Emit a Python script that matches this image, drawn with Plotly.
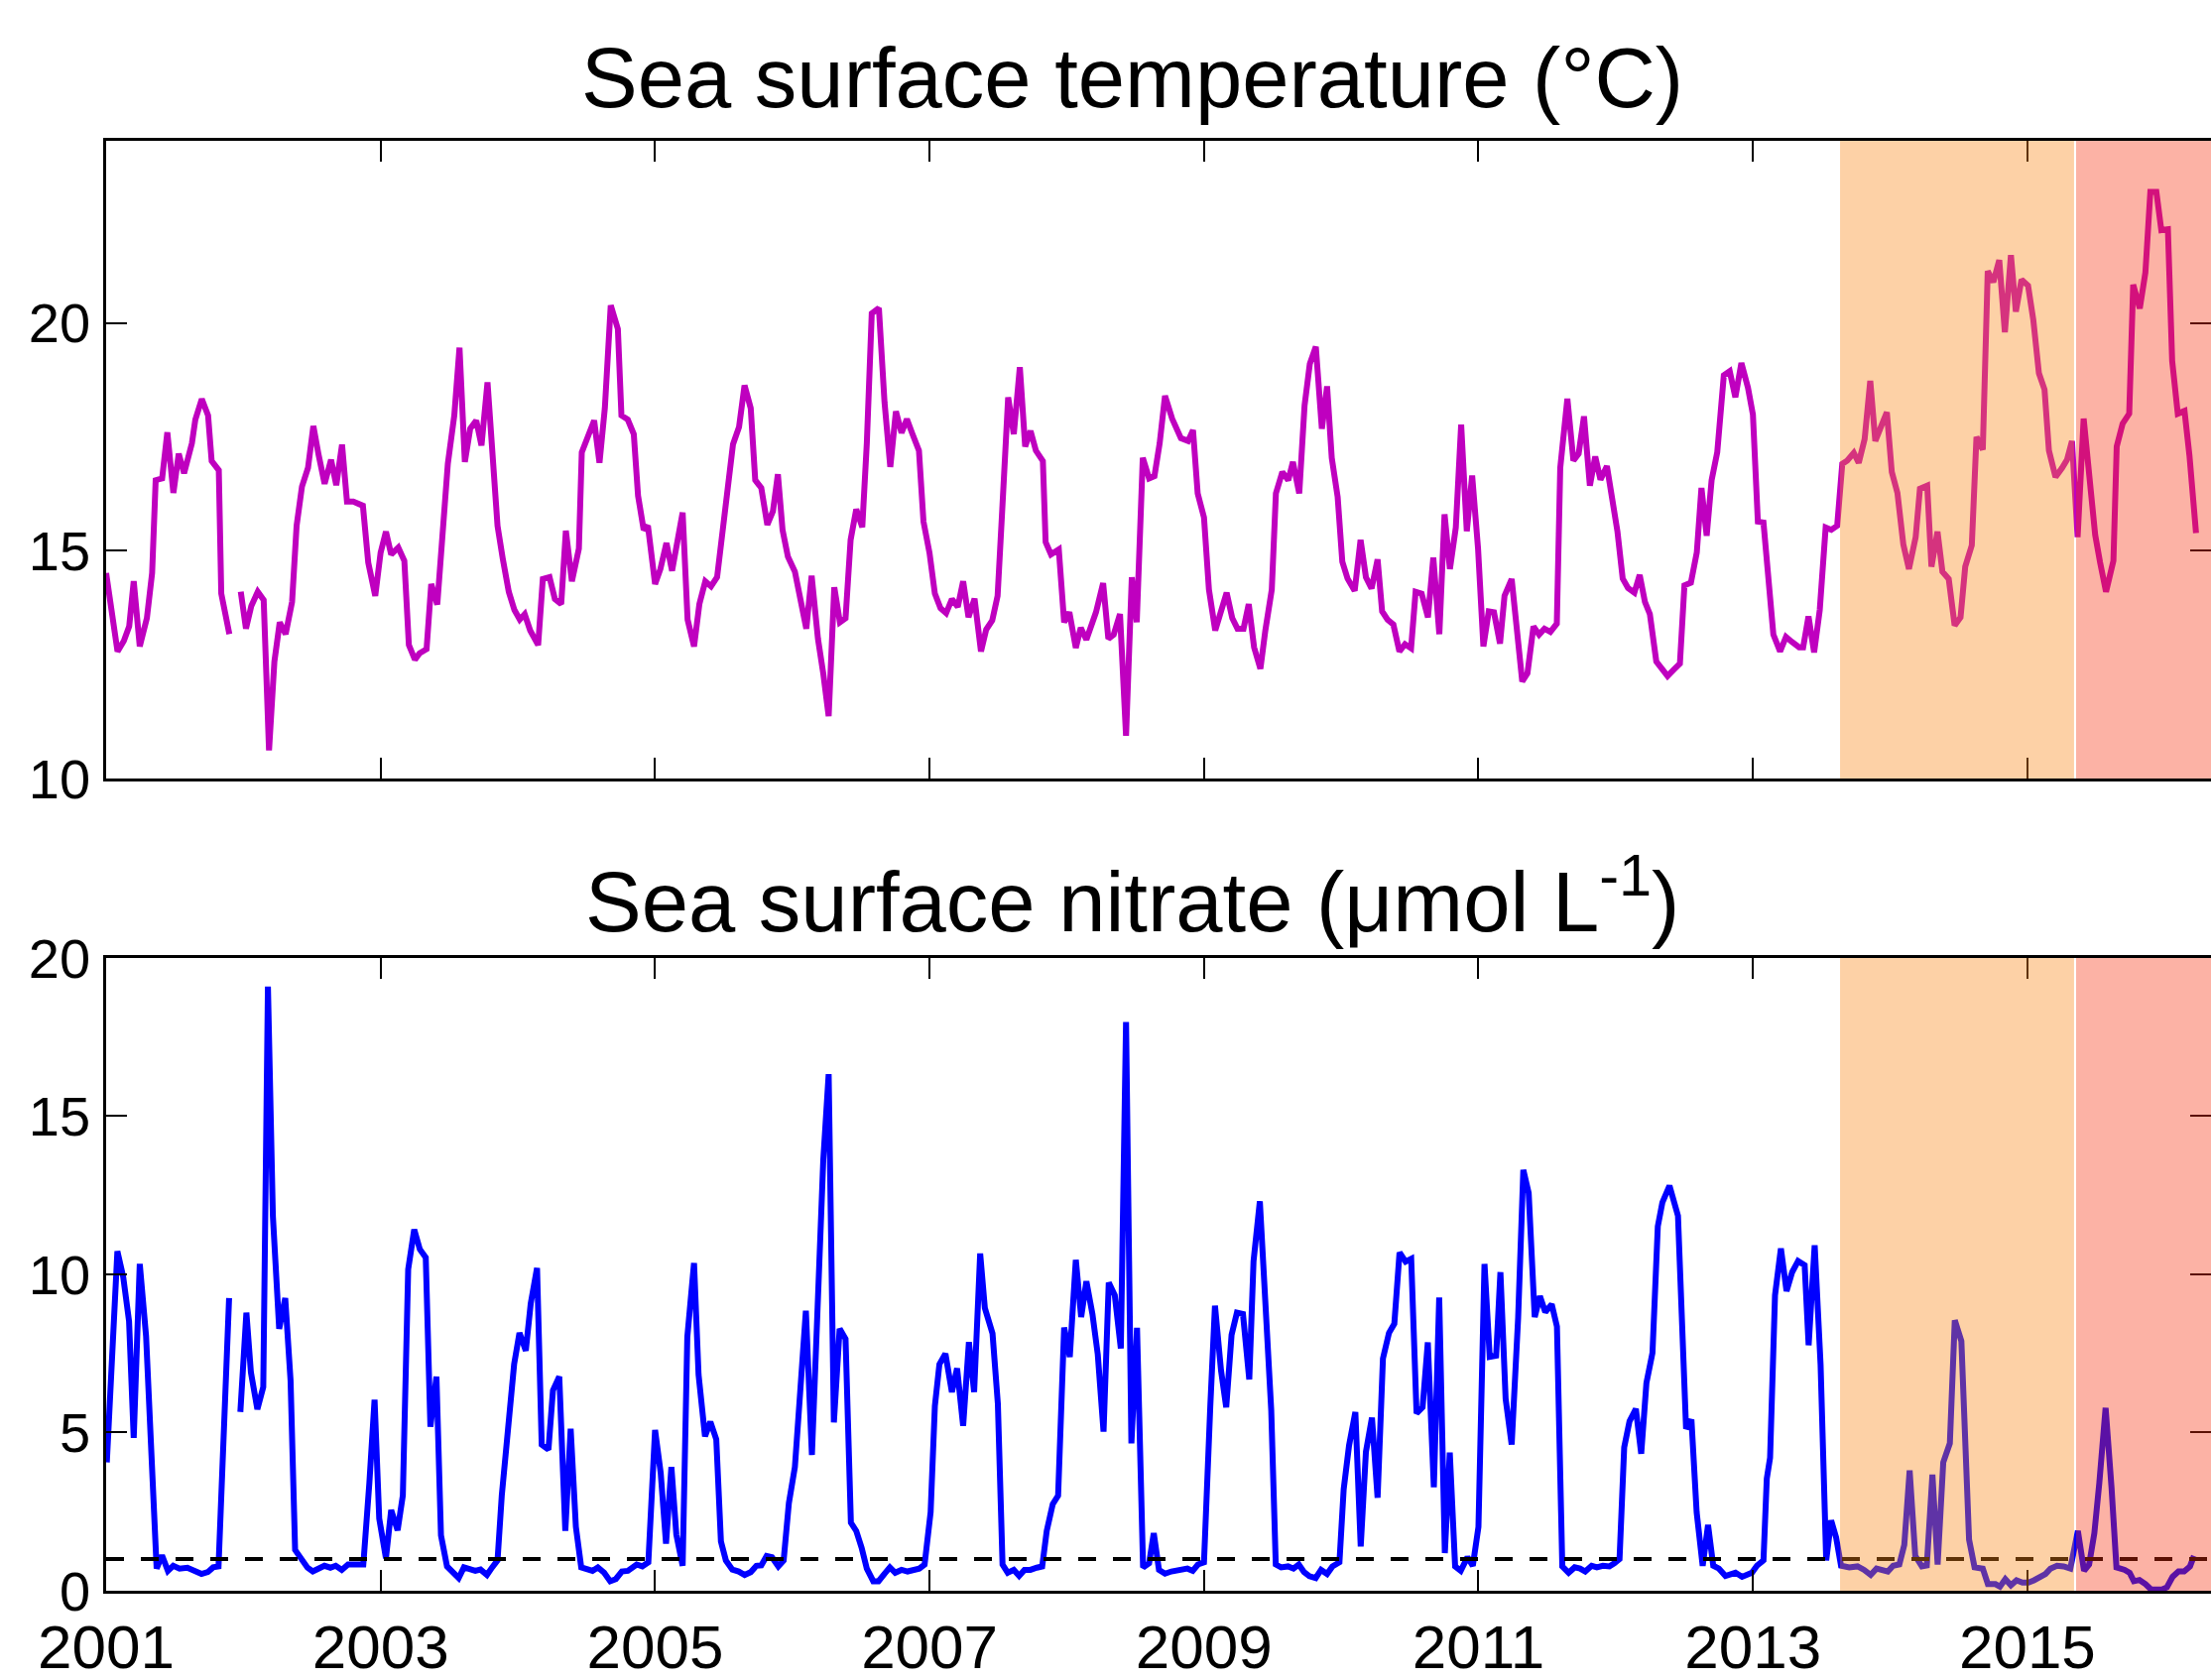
import plotly.graph_objects as go

# ---------------- data ----------------
sst_years = [
    2001.000, 2001.083, 2001.129, 2001.168, 2001.201, 2001.245, 2001.297, 2001.335, 2001.361, 2001.408,
    2001.446, 2001.490, 2001.529, 2001.568, 2001.625, 2001.650, 2001.697, 2001.743, 2001.769, 2001.821,
    2001.839, 2001.898, 2001.940, 2001.981, 2002.019, 2002.058, 2002.105, 2002.148, 2002.187, 2002.226,
    2002.265, 2002.308, 2002.355, 2002.388, 2002.427, 2002.471, 2002.510, 2002.548, 2002.592, 2002.639,
    2002.677, 2002.719, 2002.755, 2002.801, 2002.871, 2002.910, 2002.961, 2003.000, 2003.039, 2003.077,
    2003.129, 2003.173, 2003.206, 2003.250, 2003.284, 2003.335, 2003.369, 2003.413, 2003.452, 2003.490,
    2003.537, 2003.575, 2003.614, 2003.653, 2003.697, 2003.735, 2003.779, 2003.813, 2003.852, 2003.890,
    2003.934, 2003.975, 2004.014, 2004.050, 2004.090, 2004.148, 2004.182, 2004.231, 2004.270, 2004.316,
    2004.350, 2004.394, 2004.445, 2004.466, 2004.510, 2004.556, 2004.595, 2004.634, 2004.677, 2004.729,
    2004.755, 2004.801, 2004.845, 2004.876, 2004.917, 2004.948,
    2005.000, 2005.039, 2005.083, 2005.124, 2005.201, 2005.237, 2005.284, 2005.323, 2005.366, 2005.408,
    2005.452, 2005.490, 2005.529, 2005.568, 2005.612, 2005.652, 2005.697, 2005.730, 2005.774, 2005.818,
    2005.859, 2005.895, 2005.929, 2005.968, 2006.019, 2006.058, 2006.102, 2006.141, 2006.187, 2006.226,
    2006.265, 2006.306, 2006.347, 2006.388, 2006.425, 2006.466, 2006.510, 2006.543, 2006.579, 2006.631,
    2006.672, 2006.714, 2006.755, 2006.796, 2006.835, 2006.876, 2006.923, 2006.956, 2007.000, 2007.039,
    2007.080, 2007.121, 2007.163, 2007.206, 2007.245, 2007.284, 2007.328, 2007.375, 2007.413, 2007.457,
    2007.496, 2007.530, 2007.573, 2007.614, 2007.658, 2007.697, 2007.736, 2007.775, 2007.826, 2007.846,
    2007.885, 2007.942, 2007.981, 2008.019, 2008.066, 2008.102, 2008.143, 2008.213, 2008.265, 2008.303,
    2008.342, 2008.388, 2008.432, 2008.474, 2008.510, 2008.554, 2008.600, 2008.639, 2008.677, 2008.716,
    2008.768, 2008.832, 2008.884,
    2008.920, 2008.954, 2009.000, 2009.036, 2009.082, 2009.129, 2009.165, 2009.206, 2009.244, 2009.288,
    2009.326, 2009.365, 2009.411, 2009.447, 2009.494, 2009.524, 2009.571, 2009.614, 2009.648, 2009.694,
    2009.733, 2009.771, 2009.815, 2009.859, 2009.897, 2009.931, 2009.974, 2010.008, 2010.046, 2010.098,
    2010.141, 2010.180, 2010.221, 2010.265, 2010.298, 2010.337, 2010.380, 2010.424, 2010.465, 2010.509,
    2010.542, 2010.586, 2010.632, 2010.671, 2010.715, 2010.753, 2010.792, 2010.835, 2010.874, 2010.915,
    2010.954, 2010.997, 2011.036, 2011.075, 2011.113, 2011.157, 2011.190, 2011.242, 2011.280, 2011.319,
    2011.357, 2011.401, 2011.442, 2011.481, 2011.524, 2011.571, 2011.596, 2011.648, 2011.692, 2011.730,
    2011.769, 2011.812, 2011.851, 2011.889, 2011.936, 2011.974, 2012.013, 2012.051, 2012.090, 2012.136,
    2012.175, 2012.213, 2012.249, 2012.296, 2012.339, 2012.378, 2012.424, 2012.468, 2012.501, 2012.548,
    2012.591, 2012.625, 2012.663, 2012.699, 2012.740,
    2012.788, 2012.831, 2012.872, 2012.916, 2012.964, 2013.000, 2013.036, 2013.077, 2013.113, 2013.149,
    2013.198, 2013.241, 2013.284, 2013.337, 2013.366, 2013.405, 2013.446, 2013.487, 2013.530, 2013.571,
    2013.614, 2013.651, 2013.687, 2013.735, 2013.771, 2013.814, 2013.855, 2013.892, 2013.933, 2013.976,
    2014.012, 2014.053, 2014.096, 2014.137, 2014.186, 2014.217, 2014.270, 2014.301, 2014.345, 2014.381,
    2014.427, 2014.470, 2014.513, 2014.547, 2014.595, 2014.629, 2014.675, 2014.711, 2014.752, 2014.795,
    2014.836, 2014.880, 2014.916, 2014.957, 2015.005, 2015.043, 2015.084, 2015.125, 2015.157, 2015.205,
    2015.253, 2015.289, 2015.325, 2015.366, 2015.410, 2015.453, 2015.494, 2015.530, 2015.573, 2015.627,
    2015.651, 2015.694, 2015.742, 2015.771, 2015.819, 2015.860, 2015.896, 2015.940, 2015.976, 2016.024,
    2016.055, 2016.096, 2016.145, 2016.181, 2016.229,
]
sst_values = [
    14.51, 12.79, 13.02, 13.34, 14.33, 12.90, 13.52, 14.51, 16.55, 16.59,
    17.60, 16.27, 17.13, 16.70, 17.36, 17.88, 18.33, 17.97, 16.97, 16.77,
    14.06, 13.17, None, 14.10, 13.29, 13.79, 14.10, 13.92, 10.62, 12.57,
    13.43, 13.17, 13.88, 15.55, 16.41, 16.82, 17.74, 17.11, 16.47, 17.00,
    16.44, 17.33, 16.08, 16.08, 15.99, 14.74, 14.01, 14.96, 15.42, 14.92,
    15.07, 14.78, 12.93, 12.61, 12.75, 12.84, 14.27, 13.82, 15.57, 16.91,
    17.97, 19.46, 16.95, 17.68, 17.86, 17.31, 18.70, 17.09, 15.55, 14.83,
    14.10, 13.70, 13.49, 13.61, 13.25, 12.93, 14.38, 14.42, 13.94, 13.83,
    15.44, 14.33, 15.05, 17.16, 17.54, 17.86, 16.93, 18.13, 20.39, 19.87,
    17.97, 17.88, 17.56, 16.21, 15.46, 15.55,
    14.27, 14.60, 15.17, 14.56, 15.84, 13.49, 12.90, 13.83, 14.33, 14.22,
    14.42, 15.33, 16.18, 17.34, 17.72, 18.63, 18.13, 16.55, 16.38, 15.57,
    15.87, 16.68, 15.46, 14.87, 14.54, 13.88, 13.29, 14.45, 13.07, 12.30,
    11.37, 14.20, 13.43, 13.52, 15.24, 15.91, 15.52, 17.36, 20.21, 20.33,
    18.26, 16.84, 18.06, 17.59, 17.89, 17.56, 17.20, 15.64, 14.95, 14.06,
    13.74, 13.63, 13.94, 13.77, 14.33, 13.54, 13.95, 12.79, 13.27, 13.47,
    14.01, 15.91, 18.37, 17.56, 19.03, 17.29, 17.63, 17.20, 16.97, 15.19,
    14.92, 15.03, 13.43, 13.65, 12.87, 13.31, 13.05, 13.65, 14.29, 13.07,
    13.16, 13.61, 10.94, 14.42, 13.43, 17.04, 16.59, 16.64, 17.36, 18.40,
    17.90, 17.47, 17.41,
    17.65, 16.26, 15.73, 14.15, 13.25, 13.74, 14.08, 13.52, 13.29, 13.29,
    13.83, 12.88, 12.41, 13.25, 14.15, 16.26, 16.73, 16.55, 16.95, 16.26,
    18.19, 19.10, 19.48, 17.68, 18.61, 17.04, 16.18, 14.76, 14.39, 14.12,
    15.24, 14.42, 14.17, 14.81, 13.67, 13.49, 13.38, 12.79, 12.95, 12.86,
    14.10, 14.06, 13.54, 14.85, 13.17, 15.80, 14.60, 15.51, 17.77, 15.43,
    16.65, 15.05, 12.90, 13.67, 13.65, 12.96, 14.01, 14.38, 13.34, 12.13,
    12.31, 13.34, 13.16, 13.29, 13.22, 13.40, 16.82, 18.34, 16.98, 17.13,
    17.95, 16.43, 17.07, 16.56, 16.86, 16.14, 15.42, 14.39, 14.18, 14.08,
    14.47, 13.88, 13.61, 12.57, 12.39, 12.25, 12.39, 12.52, 14.24, 14.30,
    14.96, 16.38, 15.33, 16.55, 17.16,
    18.85, 18.94, 18.37, 19.12, 18.58, 17.99, 15.64, 15.62, 14.42, 13.16,
    12.79, 13.11, 13.00, 12.88, 12.88, 13.56, 12.77, 13.70, 15.51, 15.46,
    15.55, 16.91, 16.98, 17.15, 16.93, 17.45, 18.73, 17.41, 17.72, 18.04,
    16.73, 16.27, 15.14, 14.60, 15.30, 16.36, 16.43, 14.65, 15.42, 14.54,
    14.38, 13.36, 13.54, 14.65, 15.12, 17.50, 17.22, 21.14, 20.90, 21.38,
    19.80, 21.49, 20.25, 20.95, 20.82, 20.07, 18.90, 18.54, 17.20, 16.62,
    16.82, 17.00, 17.41, 15.30, 17.90, 16.41, 15.35, 14.74, 14.10, 14.78,
    17.29, 17.79, 18.01, 20.84, 20.32, 21.11, 22.88, 22.88, 22.04, 22.06,
    19.17, 18.01, 18.07, 17.09, 15.39,
]

no3_years = [
    2001.005, 2001.039, 2001.082, 2001.124, 2001.167, 2001.201, 2001.245, 2001.291, 2001.322, 2001.347,
    2001.368, 2001.407, 2001.450, 2001.489, 2001.535, 2001.592, 2001.644, 2001.695, 2001.741, 2001.780,
    2001.819, 2001.849, 2001.896, 2001.940, 2001.978, 2002.022, 2002.055, 2002.102, 2002.145, 2002.179,
    2002.215, 2002.261, 2002.305, 2002.344, 2002.377, 2002.429, 2002.467, 2002.506, 2002.544, 2002.591,
    2002.634, 2002.673, 2002.717, 2002.763, 2002.815, 2002.874, 2002.918, 2002.956, 2002.990, 2003.039,
    2003.077, 2003.124, 2003.162, 2003.201, 2003.245, 2003.286, 2003.329, 2003.363, 2003.407, 2003.440,
    2003.484, 2003.530, 2003.569, 2003.607, 2003.651, 2003.690, 2003.728, 2003.775, 2003.813, 2003.852,
    2003.883, 2003.934, 2003.973, 2004.012, 2004.058, 2004.094, 2004.140, 2004.174, 2004.223, 2004.256,
    2004.302, 2004.346, 2004.385, 2004.423, 2004.462, 2004.544, 2004.583, 2004.629, 2004.673, 2004.714,
    2004.758, 2004.802, 2004.866, 2004.907, 2004.951,
    2005.000, 2005.041, 2005.080, 2005.119, 2005.155, 2005.201, 2005.235, 2005.284, 2005.317, 2005.364,
    2005.403, 2005.446, 2005.480, 2005.516, 2005.563, 2005.609, 2005.653, 2005.697, 2005.738, 2005.774,
    2005.813, 2005.852, 2005.898, 2005.937, 2005.975, 2006.019, 2006.058, 2006.099, 2006.143, 2006.187,
    2006.226, 2006.265, 2006.303, 2006.345, 2006.388, 2006.427, 2006.466, 2006.505, 2006.543, 2006.590,
    2006.628, 2006.672, 2006.711, 2006.750, 2006.796, 2006.840, 2006.884, 2006.925, 2006.964, 2007.008,
    2007.039, 2007.072, 2007.116, 2007.163, 2007.201, 2007.245, 2007.287, 2007.325, 2007.369, 2007.403,
    2007.459, 2007.498, 2007.532, 2007.570, 2007.614, 2007.653, 2007.692, 2007.735, 2007.782, 2007.821,
    2007.854, 2007.898, 2007.937, 2007.981, 2008.022, 2008.066, 2008.105, 2008.143, 2008.187, 2008.226,
    2008.268, 2008.306, 2008.350, 2008.394, 2008.432, 2008.471, 2008.512, 2008.556, 2008.600, 2008.634,
    2008.672, 2008.716, 2008.763, 2008.814, 2008.879,
    2008.918, 2008.956, 2009.000, 2009.021, 2009.046, 2009.080, 2009.124, 2009.162, 2009.201, 2009.240,
    2009.284, 2009.330, 2009.361, 2009.407, 2009.446, 2009.490, 2009.523, 2009.562, 2009.613, 2009.652,
    2009.691, 2009.729, 2009.768, 2009.814, 2009.853, 2009.897, 2009.936, 2009.987, 2010.018, 2010.057,
    2010.103, 2010.142, 2010.180, 2010.224, 2010.265, 2010.304, 2010.348, 2010.387, 2010.425, 2010.469,
    2010.510, 2010.549, 2010.593, 2010.631, 2010.675, 2010.714, 2010.755, 2010.791, 2010.830, 2010.871,
    2010.920, 2010.959, 2011.000, 2011.044, 2011.082, 2011.129, 2011.160, 2011.198, 2011.242, 2011.289,
    2011.327, 2011.366, 2011.410, 2011.448, 2011.487, 2011.534, 2011.572, 2011.611, 2011.657, 2011.701,
    2011.740, 2011.778, 2011.825, 2011.863, 2011.907, 2011.954, 2011.990, 2012.028, 2012.062, 2012.101,
    2012.147, 2012.186, 2012.224, 2012.268, 2012.307, 2012.340, 2012.392, 2012.454, 2012.513, 2012.552,
    2012.590, 2012.634, 2012.673, 2012.711,
    2012.752, 2012.800, 2012.873, 2012.921, 2012.993, 2013.029, 2013.077, 2013.101, 2013.125, 2013.161,
    2013.204, 2013.245, 2013.286, 2013.329, 2013.377, 2013.406, 2013.450, 2013.493, 2013.534, 2013.570,
    2013.606, 2013.642, 2013.702, 2013.762, 2013.810, 2013.858, 2013.901, 2013.942, 2013.983, 2014.022,
    2014.067, 2014.103, 2014.142, 2014.183, 2014.231, 2014.267, 2014.308, 2014.346, 2014.387, 2014.435,
    2014.471, 2014.519, 2014.543, 2014.575, 2014.615, 2014.675, 2014.712, 2014.767, 2014.800, 2014.839,
    2014.880, 2014.921, 2014.964, 2015.007, 2015.048, 2015.084, 2015.132, 2015.168, 2015.216, 2015.264,
    2015.313, 2015.368, 2015.413, 2015.450, 2015.488, 2015.524, 2015.570, 2015.613, 2015.649, 2015.709,
    2015.745, 2015.776, 2015.817, 2015.861, 2015.901, 2015.938, 2015.981, 2016.017, 2016.058, 2016.101,
    2016.142, 2016.185, 2016.214,
]
no3_values = [
    4.06, 7.23, 10.73, 9.93, 8.52, 4.83, 10.33, 8.05, 4.72, 1.95,
    0.70, 1.12, 0.63, 0.79, 0.70, 0.73, 0.61, 0.53, 0.59, 0.74,
    0.77, 4.33, 9.25, None, 5.65, 8.79, 6.90, 5.74, 6.44, 19.10,
    11.85, 8.28, 9.25, 6.64, 1.29, 0.92, 0.73, 0.61, 0.70, 0.79,
    0.73, 0.79, 0.66, 0.83, 0.83, 0.83, 3.40, 6.04, 2.28, 1.03,
    2.55, 1.91, 3.01, 10.16, 11.42, 10.79, 10.53, 5.18, 6.77, 1.75,
    0.77, 0.59, 0.40, 0.74, 0.66, 0.63, 0.67, 0.50, 0.74, 0.96,
    3.01, 5.65, 7.16, 8.15, 7.59, 9.08, 10.20, 4.62, 4.46, 6.33,
    6.77, 1.89, 5.12, 2.02, 0.74, 0.63, 0.74, 0.57, 0.30, 0.37,
    0.61, 0.63, 0.83, 0.77, 0.90,
    5.08, 3.73, 1.49, 3.91, 1.78, 0.79, 8.02, 10.36, 6.83, 4.88,
    5.34, 4.79, 1.56, 0.96, 0.67, 0.61, 0.50, 0.59, 0.79, 0.80,
    1.10, 1.06, 0.77, 0.96, 2.77, 3.91, 6.31, 8.85, 4.29, 9.74,
    13.63, 16.33, 5.32, 8.28, 7.96, 2.15, 1.89, 1.36, 0.70, 0.30,
    0.30, 0.54, 0.74, 0.57, 0.66, 0.61, 0.66, 0.70, 0.83, 2.48,
    5.84, 7.16, 7.49, 6.28, 7.03, 5.21, 7.86, 6.28, 10.66, 8.94,
    8.13, 5.91, 0.83, 0.57, 0.66, 0.47, 0.66, 0.66, 0.73, 0.77,
    1.89, 2.74, 3.01, 8.32, 7.39, 10.46, 8.65, 9.78, 8.75, 7.47,
    5.03, 9.74, 9.34, 7.66, 17.98, 4.66, 8.31, 0.74, 0.87, 1.82,
    0.66, 0.54, 0.61, 0.66, 0.70,
    0.63, 0.83, 0.90, 3.40, 5.84, 9.01, 6.97, 5.80, 8.09, 8.79,
    8.75, 6.68, 10.42, 12.31, 9.34, 5.71, 0.83, 0.74, 0.77, 0.70,
    0.83, 0.59, 0.46, 0.40, 0.66, 0.53, 0.77, 0.90, 3.21, 4.59,
    5.65, 1.40, 4.39, 5.47, 2.94, 7.34, 8.15, 8.44, 10.69, 10.40,
    10.49, 5.61, 5.80, 7.85, 3.27, 9.27, 1.19, 4.37, 0.77, 0.63,
    1.06, 0.79, 2.02, 10.33, 7.39, 7.43, 10.07, 6.07, 4.62, 8.61,
    13.30, 12.57, 8.65, 9.31, 8.81, 9.05, 8.35, 0.77, 0.57, 0.74,
    0.70, 0.61, 0.79, 0.74, 0.79, 0.77, 0.87, 1.00, 4.53, 5.36,
    5.75, 4.33, 6.57, 7.52, 11.52, 12.27, 12.80, 11.85, 5.12, 5.41,
    2.48, 0.79, 2.08, 0.79,
    0.70, 0.47, 0.57, 0.44, 0.57, 0.79, 0.96, 3.54, 4.20, 9.34,
    10.82, 9.47, 10.07, 10.42, 10.29, 7.76, 10.92, 7.16, 0.96, 2.22,
    1.69, 0.79, 0.74, 0.77, 0.66, 0.50, 0.70, 0.66, 0.61, 0.79,
    0.83, 1.45, 3.80, 1.10, 0.77, 0.80, 3.67, 0.83, 4.06, 4.66,
    8.55, 7.89, 4.59, 1.62, 0.74, 0.70, 0.21, 0.21, 0.13, 0.37,
    0.17, 0.33, 0.26, 0.26, 0.33, 0.44, 0.53, 0.70, 0.79, 0.77,
    0.70, 1.89, 0.63, 0.83, 1.82, 3.40, 5.78, 3.27, 0.74, 0.66,
    0.57, 0.30, 0.34, 0.21, 0.04, 0.04, 0.04, 0.11, 0.44, 0.61,
    0.61, 0.77, 1.10,
]

year_ticks = [2001, 2003, 2005, 2007, 2009, 2011, 2013, 2015]
year_labels = ["2001", "2003", "2005", "2007", "2009", "2011", "2013", "2015"]
x_range = [2001.0, 2016.338]
sst_range = [10, 24]
sst_ticks = [10, 15, 20]
no3_range = [0, 20]
no3_ticks = [0, 5, 10, 15, 20]
no3_threshold = 1.0

# shaded periods: (start, end, overlay colour)
period_starts = [2013.635, 2015.355]
period_ends = [2015.340, 2016.338]
period_colors = ["rgba(250,135,20,0.38)", "rgba(246,46,11,0.37)"]

titles = ["Sea surface temperature (°C)", "Sea surface nitrate (μmol L<sup>-1</sup>)"]

# ---------------- figure ----------------
FONT = "Liberation Sans, Arial, Helvetica, sans-serif"
fig = go.Figure()

fig.add_trace(go.Scatter(x=sst_years, y=sst_values, mode="lines",
                         line=dict(color="rgb(191,0,191)", width=6),
                         connectgaps=False, xaxis="x", yaxis="y", showlegend=False))
fig.add_trace(go.Scatter(x=no3_years, y=no3_values, mode="lines",
                         line=dict(color="rgb(0,0,255)", width=6),
                         connectgaps=False, xaxis="x2", yaxis="y2", showlegend=False))
fig.add_trace(go.Scatter(x=x_range, y=[no3_threshold, no3_threshold], mode="lines",
                         line=dict(color="black", width=4, dash="18px,17px"),
                         xaxis="x2", yaxis="y2", showlegend=False))

shapes = []
for xr, yr in (("x", "y domain"), ("x2", "y2 domain")):
    for s, e, c in zip(period_starts, period_ends, period_colors):
        shapes.append(dict(type="rect", xref=xr, yref=yr, x0=s, x1=e, y0=0, y1=1,
                           fillcolor=c, line=dict(width=0), layer="above"))

axis_common = dict(showline=True, linecolor="black", linewidth=2.5, mirror="ticks",
                   ticks="inside", ticklen=21, tickwidth=2, tickcolor="black",
                   showgrid=False, zeroline=False, automargin=False)

fig.update_layout(
    width=2229, height=1694,
    margin=dict(l=107, r=0, t=142, b=90, autoexpand=False),
    paper_bgcolor="white", plot_bgcolor="white",
    font=dict(family=FONT, color="black"),
    shapes=shapes,
    xaxis=dict(domain=[0, 1], anchor="y", range=x_range, tickvals=year_ticks,
               ticktext=year_labels, showticklabels=False, **axis_common),
    yaxis=dict(domain=[0.56019, 1], anchor="x", range=sst_range, tickvals=sst_ticks,
               tickfont=dict(size=56), ticklabelstandoff=2, **axis_common),
    xaxis2=dict(domain=[0, 1], anchor="y2", range=x_range, tickvals=year_ticks,
                ticktext=year_labels, tickfont=dict(size=62), ticklabelstandoff=1,
                **axis_common),
    yaxis2=dict(domain=[0, 0.43639], anchor="x2", range=no3_range, tickvals=no3_ticks,
                tickfont=dict(size=56), ticklabelstandoff=2, **axis_common),
    annotations=[
        dict(text=titles[0], x=0.4873, y=1.0434, xref="paper", yref="paper",
             xanchor="center", yanchor="middle", showarrow=False,
             font=dict(size=85, family=FONT, color="black")),
        dict(text=titles[1], x=0.4873, y=0.4795, xref="paper", yref="paper",
             xanchor="center", yanchor="middle", showarrow=False,
             font=dict(size=85, family=FONT, color="black")),
    ],
)

fig.write_html("out.html")
